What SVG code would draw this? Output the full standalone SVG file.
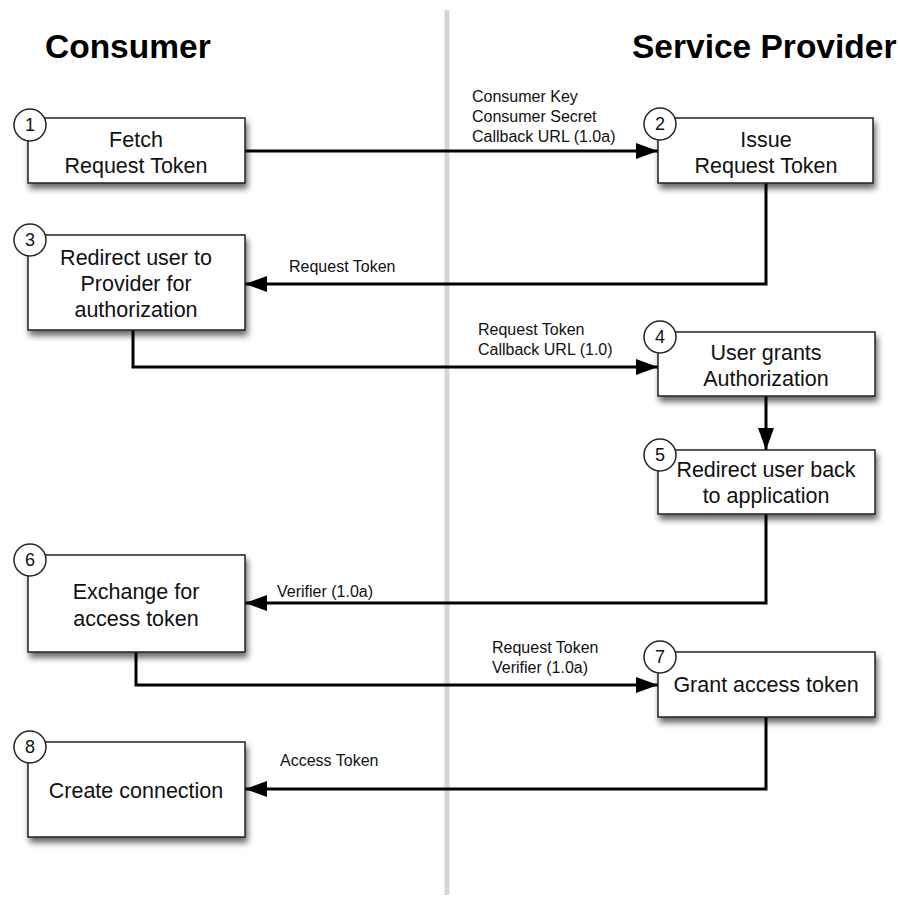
<svg xmlns="http://www.w3.org/2000/svg" width="900" height="899" viewBox="0 0 900 899">
<defs>
<filter id="sh" x="-10%" y="-10%" width="130%" height="140%">
<feGaussianBlur in="SourceAlpha" stdDeviation="3"/>
<feOffset dx="2" dy="5" result="b"/>
<feComponentTransfer><feFuncA type="linear" slope="0.6"/></feComponentTransfer>
<feMerge><feMergeNode/><feMergeNode in="SourceGraphic"/></feMerge>
</filter>
<marker id="ahb" viewBox="0 0 22 16" refX="22" refY="8" markerWidth="22" markerHeight="16" orient="auto" markerUnits="userSpaceOnUse">
<path d="M0,0 L22,8 L0,16 Z" fill="#000"/>
</marker>
</defs>
<style>
.box{fill:#fff;stroke:#222;stroke-width:1.5}
.num{fill:#fff;stroke:#222;stroke-width:1.5}
.t{font-family:"Liberation Sans",Arial,sans-serif;font-size:21.5px;fill:#111;text-anchor:middle}
.n{font-family:"Liberation Sans",Arial,sans-serif;font-size:18px;fill:#111;text-anchor:middle}
.lbl{font-family:"Liberation Sans",Arial,sans-serif;font-size:16px;fill:#111}
.hd{font-family:"Liberation Sans",Arial,sans-serif;font-size:33.5px;font-weight:bold;fill:#000}
.c{fill:none;stroke:#000;stroke-width:3;marker-end:url(#ahb)}
</style>
<rect width="900" height="899" fill="#fff"/>
<line x1="447" y1="10" x2="447" y2="895" stroke="#d6d6d6" stroke-width="5"/>
<text class="hd" x="45" y="58">Consumer</text>
<text class="hd" x="632" y="58">Service Provider</text>

<g id="connectors">
<path class="c" d="M245,151 H658"/>
<path class="c" d="M766,183 V284 H245"/>
<path class="c" d="M133,330 V367 H658"/>
<path class="c" d="M766,396 V450"/>
<path class="c" d="M766,514 V603 H245"/>
<path class="c" d="M136,652 V685 H658"/>
<path class="c" d="M766,717 V789 H245"/>
<text class="lbl" x="472" y="102">Consumer Key</text>
<text class="lbl" x="472" y="122">Consumer Secret</text>
<text class="lbl" x="472" y="142">Callback URL (1.0a)</text>
<text class="lbl" x="289" y="272">Request Token</text>
<text class="lbl" x="478" y="335">Request Token</text>
<text class="lbl" x="478" y="355">Callback URL (1.0)</text>
<text class="lbl" x="277" y="597">Verifier (1.0a)</text>
<text class="lbl" x="492" y="653">Request Token</text>
<text class="lbl" x="492" y="673">Verifier (1.0a)</text>
<text class="lbl" x="280" y="766">Access Token</text>
</g>

<g id="n1">
<rect class="box" x="28" y="118" width="217" height="65" filter="url(#sh)"/>
<text class="t" x="136" y="147">Fetch</text>
<text class="t" x="136" y="173">Request Token</text>
<circle class="num" cx="30" cy="125" r="16"/>
<text class="n" x="30" y="131">1</text>
</g>
<g id="n2">
<rect class="box" x="658" y="118" width="215" height="65" filter="url(#sh)"/>
<text class="t" x="766" y="147">Issue</text>
<text class="t" x="766" y="173">Request Token</text>
<circle class="num" cx="660" cy="124" r="16"/>
<text class="n" x="660" y="130">2</text>
</g>
<g id="n3">
<rect class="box" x="28" y="235" width="217" height="95" filter="url(#sh)"/>
<text class="t" x="136" y="265">Redirect user to</text>
<text class="t" x="136" y="291">Provider for</text>
<text class="t" x="136" y="317">authorization</text>
<circle class="num" cx="30" cy="240" r="16"/>
<text class="n" x="30" y="246">3</text>
</g>
<g id="n4">
<rect class="box" x="658" y="332" width="217" height="64" filter="url(#sh)"/>
<text class="t" x="766" y="360">User grants</text>
<text class="t" x="766" y="386">Authorization</text>
<circle class="num" cx="660" cy="337" r="16"/>
<text class="n" x="660" y="343">4</text>
</g>
<g id="n5">
<rect class="box" x="658" y="450" width="217" height="64" filter="url(#sh)"/>
<text class="t" x="766" y="477">Redirect user back</text>
<text class="t" x="766" y="503">to application</text>
<circle class="num" cx="660" cy="455" r="16"/>
<text class="n" x="660" y="461">5</text>
</g>
<g id="n6">
<rect class="box" x="28" y="555" width="217" height="97" filter="url(#sh)"/>
<text class="t" x="136" y="599">Exchange for</text>
<text class="t" x="136" y="626">access token</text>
<circle class="num" cx="30" cy="560" r="16"/>
<text class="n" x="30" y="566">6</text>
</g>
<g id="n7">
<rect class="box" x="658" y="652" width="217" height="65" filter="url(#sh)"/>
<text class="t" x="766" y="692">Grant access token</text>
<circle class="num" cx="660" cy="657" r="16"/>
<text class="n" x="660" y="663">7</text>
</g>
<g id="n8">
<rect class="box" x="28" y="742" width="217" height="95" filter="url(#sh)"/>
<text class="t" x="136" y="798">Create connection</text>
<circle class="num" cx="30" cy="747" r="16"/>
<text class="n" x="30" y="753">8</text>
</g>
</svg>
